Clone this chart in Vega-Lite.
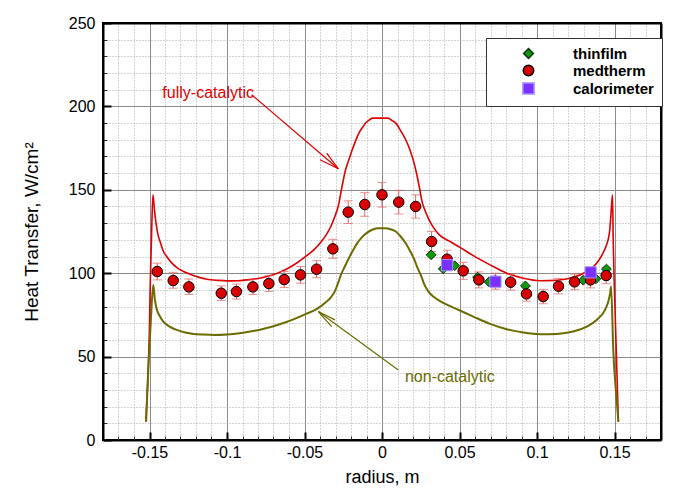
{
  "$schema": "https://vega.github.io/schema/vega-lite/v6.json",
  "width": 558,
  "height": 417,
  "autosize": {"type": "none"},
  "padding": {"left": 103, "top": 23, "right": 13, "bottom": 60},
  "background": "white",
  "config": {
    "view": {"stroke": "black", "strokeWidth": 2},
    "font": "Liberation Sans",
    "axis": {"labelFont": "Liberation Sans", "titleFont": "Liberation Sans", "labelColor": "black", "titleColor": "black"}
  },
  "datasets": {
    "full": [
      {"x": -0.1523, "y": 11}, {"x": -0.1512, "y": 34}, {"x": -0.1501, "y": 64}, {"x": -0.1495, "y": 94},
      {"x": -0.1488, "y": 118}, {"x": -0.1478, "y": 147}, {"x": -0.1468, "y": 138}, {"x": -0.1458, "y": 130},
      {"x": -0.1445, "y": 123}, {"x": -0.1432, "y": 119}, {"x": -0.141, "y": 113}, {"x": -0.1389, "y": 110},
      {"x": -0.136, "y": 106.5}, {"x": -0.1325, "y": 103.5}, {"x": -0.128, "y": 101}, {"x": -0.1239, "y": 99.4},
      {"x": -0.118, "y": 97.5}, {"x": -0.1131, "y": 96.4}, {"x": -0.106, "y": 95.7}, {"x": -0.1, "y": 95.4},
      {"x": -0.093, "y": 95.5}, {"x": -0.0873, "y": 96}, {"x": -0.08, "y": 96.8}, {"x": -0.0744, "y": 98},
      {"x": -0.068, "y": 99.8}, {"x": -0.0615, "y": 102.5}, {"x": -0.056, "y": 105.5}, {"x": -0.05, "y": 109.5},
      {"x": -0.044, "y": 114}, {"x": -0.04, "y": 118}, {"x": -0.036, "y": 123}, {"x": -0.033, "y": 128},
      {"x": -0.03, "y": 135}, {"x": -0.028, "y": 141}, {"x": -0.0262, "y": 150}, {"x": -0.0235, "y": 162},
      {"x": -0.021, "y": 169}, {"x": -0.0192, "y": 174}, {"x": -0.017, "y": 179.5}, {"x": -0.0149, "y": 184},
      {"x": -0.0125, "y": 187.5}, {"x": -0.0106, "y": 190}, {"x": -0.008, "y": 192}, {"x": -0.006, "y": 193},
      {"x": 0.0, "y": 193}, {"x": 0.004, "y": 193}, {"x": 0.0065, "y": 191.5}, {"x": 0.0089, "y": 190},
      {"x": 0.012, "y": 185.5}, {"x": 0.0153, "y": 180}, {"x": 0.018, "y": 174}, {"x": 0.0207, "y": 166},
      {"x": 0.0225, "y": 159}, {"x": 0.024, "y": 152}, {"x": 0.0261, "y": 142}, {"x": 0.028, "y": 137},
      {"x": 0.0304, "y": 132}, {"x": 0.0335, "y": 127}, {"x": 0.037, "y": 123}, {"x": 0.0439, "y": 119},
      {"x": 0.0503, "y": 115.5}, {"x": 0.0589, "y": 110.5}, {"x": 0.0697, "y": 105}, {"x": 0.0805, "y": 100},
      {"x": 0.0912, "y": 97}, {"x": 0.1019, "y": 95.5}, {"x": 0.1127, "y": 95.8}, {"x": 0.1234, "y": 97.6},
      {"x": 0.1321, "y": 101}, {"x": 0.1385, "y": 106}, {"x": 0.142, "y": 111}, {"x": 0.1445, "y": 116},
      {"x": 0.1467, "y": 124}, {"x": 0.1477, "y": 135}, {"x": 0.1487, "y": 147}, {"x": 0.1492, "y": 118},
      {"x": 0.15, "y": 89}, {"x": 0.151, "y": 58}, {"x": 0.1518, "y": 33}, {"x": 0.1525, "y": 11}
    ],
    "noncat": [
      {"x": -0.1522, "y": 11}, {"x": -0.1507, "y": 44}, {"x": -0.149, "y": 74}, {"x": -0.1476, "y": 93},
      {"x": -0.1465, "y": 84}, {"x": -0.1454, "y": 78.5}, {"x": -0.1435, "y": 74.5}, {"x": -0.1411, "y": 71},
      {"x": -0.137, "y": 68}, {"x": -0.1325, "y": 66}, {"x": -0.127, "y": 64.5}, {"x": -0.1217, "y": 63.6},
      {"x": -0.115, "y": 63.2}, {"x": -0.108, "y": 63}, {"x": -0.1, "y": 63.3}, {"x": -0.092, "y": 64},
      {"x": -0.085, "y": 65}, {"x": -0.078, "y": 66.3}, {"x": -0.07, "y": 68.2}, {"x": -0.063, "y": 70.3},
      {"x": -0.056, "y": 72.8}, {"x": -0.05, "y": 75.2}, {"x": -0.042, "y": 78.6}, {"x": -0.037, "y": 82},
      {"x": -0.033, "y": 85.5}, {"x": -0.03, "y": 90}, {"x": -0.028, "y": 95}, {"x": -0.0265, "y": 99},
      {"x": -0.024, "y": 104}, {"x": -0.0214, "y": 109}, {"x": -0.0185, "y": 114}, {"x": -0.016, "y": 118},
      {"x": -0.013, "y": 121.5}, {"x": -0.01, "y": 124}, {"x": -0.006, "y": 126.2}, {"x": -0.002, "y": 127},
      {"x": 0.002, "y": 127}, {"x": 0.006, "y": 126.2}, {"x": 0.0089, "y": 125}, {"x": 0.012, "y": 122},
      {"x": 0.0153, "y": 118}, {"x": 0.018, "y": 113.5}, {"x": 0.0207, "y": 108.5}, {"x": 0.023, "y": 103},
      {"x": 0.025, "y": 99}, {"x": 0.0272, "y": 93.5}, {"x": 0.03, "y": 89}, {"x": 0.0331, "y": 86},
      {"x": 0.0374, "y": 83.3}, {"x": 0.0439, "y": 80.3}, {"x": 0.0482, "y": 78.5}, {"x": 0.0589, "y": 74},
      {"x": 0.0697, "y": 69.6}, {"x": 0.0805, "y": 66.4}, {"x": 0.0912, "y": 64.4}, {"x": 0.1019, "y": 63.4},
      {"x": 0.1127, "y": 63.6}, {"x": 0.1234, "y": 65}, {"x": 0.1321, "y": 68}, {"x": 0.1385, "y": 72},
      {"x": 0.1439, "y": 78}, {"x": 0.146, "y": 83}, {"x": 0.1472, "y": 88}, {"x": 0.1478, "y": 92},
      {"x": 0.1492, "y": 54}, {"x": 0.1514, "y": 24}, {"x": 0.1525, "y": 11}
    ],
    "medtherm": [
      {"x": -0.145, "y": 101, "lo": 96, "hi": 106},
      {"x": -0.1347, "y": 95.6, "lo": 91, "hi": 100.5},
      {"x": -0.1246, "y": 91.8, "lo": 87.3, "hi": 96.5},
      {"x": -0.1037, "y": 88, "lo": 83.6, "hi": 92.4},
      {"x": -0.0939, "y": 89, "lo": 84.5, "hi": 93.5},
      {"x": -0.0833, "y": 91.8, "lo": 87.2, "hi": 96.4},
      {"x": -0.073, "y": 93.8, "lo": 89.1, "hi": 98.5},
      {"x": -0.0631, "y": 96.2, "lo": 91.4, "hi": 101},
      {"x": -0.0526, "y": 99, "lo": 94, "hi": 104},
      {"x": -0.0422, "y": 102.4, "lo": 97.3, "hi": 107.5},
      {"x": -0.0317, "y": 114.6, "lo": 108.9, "hi": 120.3},
      {"x": -0.0218, "y": 136.6, "lo": 129.8, "hi": 143.4},
      {"x": -0.0111, "y": 141.2, "lo": 134.1, "hi": 148.3},
      {"x": 0.0, "y": 147, "lo": 139.6, "hi": 154.4},
      {"x": 0.0108, "y": 142.6, "lo": 135.5, "hi": 149.7},
      {"x": 0.0217, "y": 140, "lo": 133, "hi": 147},
      {"x": 0.032, "y": 119, "lo": 113, "hi": 125},
      {"x": 0.042, "y": 108.4, "lo": 103, "hi": 113.8},
      {"x": 0.0524, "y": 101.4, "lo": 96.3, "hi": 106.5},
      {"x": 0.0625, "y": 96, "lo": 91.2, "hi": 100.8},
      {"x": 0.0732, "y": 95.2, "lo": 90.4, "hi": 100},
      {"x": 0.083, "y": 94.6, "lo": 89.9, "hi": 99.3},
      {"x": 0.0932, "y": 87.6, "lo": 83.2, "hi": 92},
      {"x": 0.104, "y": 86, "lo": 81.7, "hi": 90.3},
      {"x": 0.1139, "y": 92.2, "lo": 87.6, "hi": 96.8},
      {"x": 0.1242, "y": 94.8, "lo": 90.1, "hi": 99.5},
      {"x": 0.1345, "y": 96, "lo": 91.2, "hi": 100.8},
      {"x": 0.1446, "y": 98.6, "lo": 93.7, "hi": 103.5}
    ],
    "calbars": [
      {"x": 0.042, "lo": 102, "hi": 108},
      {"x": 0.0732, "lo": 92, "hi": 98},
      {"x": 0.1345, "lo": 97.5, "hi": 103.5}
    ],
    "pts": [
      {"series": "thinfilm", "x": 0.0317, "y": 111},
      {"series": "thinfilm", "x": 0.0395, "y": 102.6},
      {"series": "thinfilm", "x": 0.0469, "y": 104.5},
      {"series": "thinfilm", "x": 0.0616, "y": 97.6},
      {"series": "thinfilm", "x": 0.069, "y": 94.8},
      {"series": "thinfilm", "x": 0.0925, "y": 92.4},
      {"series": "thinfilm", "x": 0.1298, "y": 95.8},
      {"series": "thinfilm", "x": 0.138, "y": 96.6},
      {"series": "thinfilm", "x": 0.1448, "y": 102.5},
      {"series": "medtherm", "x": -0.145, "y": 101},
      {"series": "medtherm", "x": -0.1347, "y": 95.6},
      {"series": "medtherm", "x": -0.1246, "y": 91.8},
      {"series": "medtherm", "x": -0.1037, "y": 88},
      {"series": "medtherm", "x": -0.0939, "y": 89},
      {"series": "medtherm", "x": -0.0833, "y": 91.8},
      {"series": "medtherm", "x": -0.073, "y": 93.8},
      {"series": "medtherm", "x": -0.0631, "y": 96.2},
      {"series": "medtherm", "x": -0.0526, "y": 99},
      {"series": "medtherm", "x": -0.0422, "y": 102.4},
      {"series": "medtherm", "x": -0.0317, "y": 114.6},
      {"series": "medtherm", "x": -0.0218, "y": 136.6},
      {"series": "medtherm", "x": -0.0111, "y": 141.2},
      {"series": "medtherm", "x": 0.0, "y": 147},
      {"series": "medtherm", "x": 0.0108, "y": 142.6},
      {"series": "medtherm", "x": 0.0217, "y": 140},
      {"series": "medtherm", "x": 0.032, "y": 119},
      {"series": "medtherm", "x": 0.042, "y": 108.4},
      {"series": "medtherm", "x": 0.0524, "y": 101.4},
      {"series": "medtherm", "x": 0.0625, "y": 96},
      {"series": "medtherm", "x": 0.0732, "y": 95.2},
      {"series": "medtherm", "x": 0.083, "y": 94.6},
      {"series": "medtherm", "x": 0.0932, "y": 87.6},
      {"series": "medtherm", "x": 0.104, "y": 86},
      {"series": "medtherm", "x": 0.1139, "y": 92.2},
      {"series": "medtherm", "x": 0.1242, "y": 94.8},
      {"series": "medtherm", "x": 0.1345, "y": 96},
      {"series": "medtherm", "x": 0.1446, "y": 98.6},
      {"series": "calorimeter", "x": 0.042, "y": 104.8},
      {"series": "calorimeter", "x": 0.0732, "y": 94.9},
      {"series": "calorimeter", "x": 0.1346, "y": 100.5}
    ],
    "arrows": [
      {"kind": "full", "x": -0.0841, "y": 207, "x2": -0.0282, "y2": 162.6},
      {"kind": "full", "x": -0.04, "y": 168, "x2": -0.0282, "y2": 162.6},
      {"kind": "full", "x": -0.0357, "y": 172, "x2": -0.0282, "y2": 162.6},
      {"kind": "non", "x": 0.0105, "y": 42, "x2": -0.0411, "y2": 77},
      {"kind": "non", "x": -0.0303, "y": 72, "x2": -0.0411, "y2": 77},
      {"kind": "non", "x": -0.0325, "y": 68, "x2": -0.0411, "y2": 77}
    ],
    "labels": [
      {"kind": "full", "x": -0.1417, "y": 208, "text": "fully-catalytic"},
      {"kind": "non", "x": 0.0148, "y": 37.8, "text": "non-catalytic"}
    ]
  },
  "layer": [
    {
      "data": {"name": "full"},
      "mark": {"type": "point", "opacity": 0},
      "encoding": {
        "x": {"field": "x", "type": "quantitative", "scale": {"domain": [-0.18, 0.18], "nice": false, "zero": false},
          "axis": {"orient": "bottom", "values": [-0.17,-0.16,-0.14,-0.13,-0.12,-0.11,-0.09,-0.08,-0.07,-0.06,-0.04,-0.03,-0.02,-0.01,0.01,0.02,0.03,0.04,0.06,0.07,0.08,0.09,0.11,0.12,0.13,0.14,0.16,0.17],
            "grid": true, "gridColor": "#a8a8a8", "gridDash": [1, 2], "gridWidth": 1, "labels": false, "domain": false, "title": null,
            "ticks": true, "tickSize": -4, "tickColor": "#333", "tickWidth": 1}},
        "y": {"field": "y", "type": "quantitative", "scale": {"domain": [0, 250], "nice": false, "zero": false},
          "axis": {"orient": "left", "values": [10,20,30,40,60,70,80,90,110,120,130,140,160,170,180,190,210,220,230,240],
            "grid": true, "gridColor": "#a8a8a8", "gridDash": [1, 2], "gridWidth": 1, "labels": false, "domain": false, "title": null,
            "ticks": true, "tickSize": -4, "tickColor": "#333", "tickWidth": 1}}
      }
    },
    {
      "data": {"name": "full"},
      "mark": {"type": "point", "opacity": 0},
      "encoding": {
        "x": {"field": "x", "type": "quantitative", "scale": {"domain": [-0.18, 0.18], "nice": false, "zero": false},
          "axis": {"orient": "bottom", "values": [-0.15,-0.1,-0.05,0,0.05,0.1,0.15],
            "grid": true, "gridColor": "#8a8a8a", "gridWidth": 1, "labels": false, "domain": false, "title": null,
            "ticks": true, "tickSize": -8, "tickColor": "black", "tickWidth": 2}},
        "y": {"field": "y", "type": "quantitative", "scale": {"domain": [0, 250], "nice": false, "zero": false},
          "axis": {"orient": "left", "values": [0,50,100,150,200,250],
            "grid": true, "gridColor": "#8a8a8a", "gridWidth": 1, "labels": false, "domain": false, "title": null,
            "ticks": true, "tickSize": -8, "tickColor": "black", "tickWidth": 2}}
      }
    },
    {
      "data": {"name": "full"},
      "mark": {"type": "point", "opacity": 0},
      "encoding": {
        "x": {"field": "x", "type": "quantitative", "scale": {"domain": [-0.18, 0.18], "nice": false, "zero": false},
          "axis": {"orient": "bottom", "values": [-0.15,-0.1,-0.05,0,0.05,0.1,0.15],
            "grid": false, "ticks": false, "labelExpr": "toString(datum.value)", "labelFontSize": 16, "labelPadding": 4,
            "domain": true, "domainColor": "black", "domainWidth": 2, "zindex": 2,
            "title": "radius, m", "titleFontSize": 18, "titleFontWeight": "normal", "titlePadding": 8}},
        "y": {"field": "y", "type": "quantitative", "scale": {"domain": [0, 250], "nice": false, "zero": false},
          "axis": {"orient": "left", "values": [0,50,100,150,200,250],
            "grid": false, "ticks": false, "labelFontSize": 16, "labelPadding": 8,
            "domain": true, "domainColor": "black", "domainWidth": 2, "zindex": 2,
            "title": "Heat Transfer, W/cm²", "titleFontSize": 19, "titleFontWeight": "normal", "titlePadding": 27}}
      }
    },
    {
      "data": {"name": "full"},
      "mark": {"type": "point", "opacity": 0},
      "encoding": {
        "x": {"field": "x", "type": "quantitative", "scale": {"domain": [-0.18, 0.18], "nice": false, "zero": false},
          "axis": {"orient": "top", "grid": false, "ticks": false, "labels": false, "title": null,
            "domain": true, "domainColor": "black", "domainWidth": 2, "zindex": 2}},
        "y": {"field": "y", "type": "quantitative", "scale": {"domain": [0, 250], "nice": false, "zero": false},
          "axis": {"orient": "right", "grid": false, "ticks": false, "labels": false, "title": null,
            "domain": true, "domainColor": "black", "domainWidth": 2, "zindex": 2}}
      }
    },
    {
      "data": {"name": "full"},
      "mark": {"type": "line", "color": "#e00000", "strokeWidth": 1.6, "interpolate": "monotone"},
      "encoding": {
        "x": {"field": "x", "type": "quantitative", "axis": null},
        "y": {"field": "y", "type": "quantitative", "axis": null}
      }
    },
    {
      "data": {"name": "noncat"},
      "mark": {"type": "line", "color": "#6b6b00", "strokeWidth": 2, "interpolate": "monotone"},
      "encoding": {
        "x": {"field": "x", "type": "quantitative", "axis": null},
        "y": {"field": "y", "type": "quantitative", "axis": null}
      }
    },
    {
      "data": {"name": "arrows"},
      "mark": {"type": "rule", "strokeWidth": 1.2},
      "encoding": {
        "x": {"field": "x", "type": "quantitative", "axis": null},
        "y": {"field": "y", "type": "quantitative", "axis": null},
        "x2": {"field": "x2"},
        "y2": {"field": "y2"},
        "color": {"condition": {"test": "datum.kind === 'full'", "value": "#e00000"}, "value": "#6b6b00"}
      }
    },
    {
      "data": {"name": "labels"},
      "mark": {"type": "text", "align": "left", "baseline": "middle", "fontSize": 16, "font": "Liberation Sans"},
      "encoding": {
        "x": {"field": "x", "type": "quantitative", "axis": null},
        "y": {"field": "y", "type": "quantitative", "axis": null},
        "text": {"field": "text"},
        "color": {"condition": {"test": "datum.kind === 'full'", "value": "#e00000"}, "value": "#6b6b00"}
      }
    },
    {
      "data": {"name": "medtherm"},
      "mark": {"type": "errorbar", "ticks": {"size": 9}, "color": "#e86060", "thickness": 1},
      "encoding": {
        "x": {"field": "x", "type": "quantitative", "axis": null},
        "y": {"field": "lo", "type": "quantitative", "axis": null},
        "y2": {"field": "hi"}
      }
    },
    {
      "data": {"name": "calbars"},
      "mark": {"type": "errorbar", "ticks": {"size": 7}, "color": "#b8a8ff", "thickness": 1},
      "encoding": {
        "x": {"field": "x", "type": "quantitative", "axis": null},
        "y": {"field": "lo", "type": "quantitative", "axis": null},
        "y2": {"field": "hi"}
      }
    },
    {
      "data": {"name": "pts"},
      "mark": {"type": "point", "filled": true, "opacity": 1, "strokeWidth": 1},
      "encoding": {
        "x": {"field": "x", "type": "quantitative", "axis": null},
        "y": {"field": "y", "type": "quantitative", "axis": null},
        "color": {"field": "series", "type": "nominal",
          "scale": {"domain": ["thinfilm", "medtherm", "calorimeter"], "range": ["#0a9a0a", "#d80000", "#7a30ff"]},
          "legend": {"title": null, "orient": "none", "legendX": 383, "legendY": 15, "direction": "vertical",
            "fillColor": "white", "strokeColor": "#333", "padding": 8, "symbolOffset": 27, "labelOffset": 37,
            "labelFontSize": 15, "labelFontWeight": "bold", "labelFont": "Liberation Sans", "labelColor": "black", "rowPadding": 0, "zindex": 3}},
        "shape": {"field": "series", "type": "nominal",
          "scale": {"domain": ["thinfilm", "medtherm", "calorimeter"], "range": ["diamond", "circle", "square"]},
          "legend": {"title": null, "orient": "none", "legendX": 383, "legendY": 15, "direction": "vertical",
            "fillColor": "white", "strokeColor": "#333", "padding": 8, "symbolOffset": 27, "labelOffset": 37,
            "labelFontSize": 15, "labelFontWeight": "bold", "labelFont": "Liberation Sans", "labelColor": "black", "rowPadding": 0, "zindex": 3}},
        "size": {"field": "series", "type": "nominal",
          "scale": {"domain": ["thinfilm", "medtherm", "calorimeter"], "range": [95, 125, 30]},
          "legend": {"title": null, "orient": "none", "legendX": 383, "legendY": 15, "direction": "vertical",
            "fillColor": "white", "strokeColor": "#333", "padding": 8, "symbolOffset": 27, "labelOffset": 37,
            "labelFontSize": 15, "labelFontWeight": "bold", "labelFont": "Liberation Sans", "labelColor": "black", "rowPadding": 0, "zindex": 3}},
        "stroke": {"field": "series", "type": "nominal",
          "scale": {"domain": ["thinfilm", "medtherm", "calorimeter"], "range": ["#103010", "#000000", "#a890ff"]},
          "legend": {"title": null, "orient": "none", "legendX": 383, "legendY": 15, "direction": "vertical",
            "fillColor": "white", "strokeColor": "#333", "padding": 8, "symbolOffset": 27, "labelOffset": 37,
            "labelFontSize": 15, "labelFontWeight": "bold", "labelFont": "Liberation Sans", "labelColor": "black", "rowPadding": 0, "zindex": 3}}
      }
    }
  ],
  "resolve": {"axis": {"x": "independent", "y": "independent"}}
}
